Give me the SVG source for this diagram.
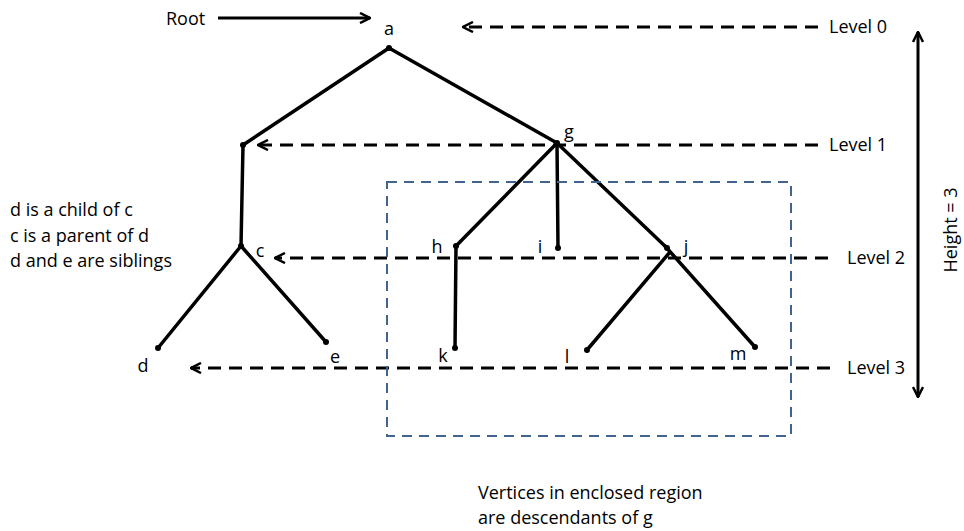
<svg xmlns="http://www.w3.org/2000/svg" width="964" height="531" viewBox="0 0 964 531">
<defs>
<marker id="ah" viewBox="0 0 12 12" refX="11" refY="6" markerWidth="12" markerHeight="12" markerUnits="userSpaceOnUse" orient="auto-start-reverse">
<path d="M1,1 L11,6 L1,11" fill="none" stroke="#000" stroke-width="2.5"/>
</marker>
<style>
.t{font-family:"Open Sans","Liberation Sans",sans-serif;font-size:18px;fill:#000}
.edge{stroke:#000;stroke-width:3.5;fill:none;stroke-linecap:round}
.lvl{stroke:#000;stroke-width:3;fill:none;stroke-dasharray:13 8}
.solid{stroke:#000;stroke-width:3;fill:none}
.dot{fill:#000}
</style>
</defs>
<rect width="964" height="531" fill="#fff"/>
<g id="connectors">
<line class="edge" x1="389" y1="48" x2="243" y2="145"/>
<line class="edge" x1="389" y1="48" x2="557" y2="143"/>
<line class="edge" x1="243" y1="145" x2="241" y2="246"/>
<line class="edge" x1="241" y1="246" x2="158" y2="348"/>
<line class="edge" x1="241" y1="246" x2="326" y2="342"/>
<line class="edge" x1="557" y1="143" x2="456" y2="246"/>
<line class="edge" x1="557" y1="143" x2="558" y2="248"/>
<line class="edge" x1="557" y1="143" x2="667" y2="248"/>
<line class="edge" x1="456" y1="246" x2="455" y2="348"/>
<line class="edge" x1="670" y1="252" x2="587" y2="350"/>
<line class="edge" x1="665" y1="246" x2="755" y2="347"/>
<line class="solid" x1="218" y1="18" x2="370" y2="18" marker-end="url(#ah)"/>
<line class="lvl" x1="818" y1="27" x2="463" y2="27" marker-end="url(#ah)"/>
<line class="lvl" x1="818" y1="145" x2="258" y2="145" marker-end="url(#ah)"/>
<line class="lvl" x1="828" y1="258" x2="275" y2="258" marker-end="url(#ah)"/>
<line class="lvl" x1="830" y1="368" x2="191" y2="368" marker-end="url(#ah)"/>
<line class="solid" x1="918" y1="32" x2="918" y2="397" marker-start="url(#ah)" marker-end="url(#ah)"/>
</g>
<rect x="387" y="182" width="404" height="254" fill="none" stroke="#41648e" stroke-width="2" stroke-dasharray="10 7"/>
<g id="root-label"><text class="t" x="166" y="25">Root</text></g>
<g id="node-a"><circle class="dot" cx="389" cy="48" r="3"/><text class="t" x="389" y="35" text-anchor="middle">a</text></g>
<g id="node-b"><circle class="dot" cx="243" cy="145" r="3"/></g>
<g id="node-g"><circle class="dot" cx="557" cy="143" r="3"/><text class="t" x="569" y="138" text-anchor="middle">g</text></g>
<g id="node-c"><circle class="dot" cx="241" cy="246" r="3"/><text class="t" x="260" y="257" text-anchor="middle">c</text></g>
<g id="node-d"><circle class="dot" cx="158" cy="348" r="3"/><text class="t" x="143" y="372" text-anchor="middle">d</text></g>
<g id="node-e"><circle class="dot" cx="326" cy="342" r="3"/><text class="t" x="335" y="363" text-anchor="middle">e</text></g>
<g id="node-h"><circle class="dot" cx="456" cy="246" r="3"/><text class="t" x="437" y="253" text-anchor="middle">h</text></g>
<g id="node-i"><circle class="dot" cx="558" cy="248" r="3"/><text class="t" x="540" y="253" text-anchor="middle">i</text></g>
<g id="node-j"><circle class="dot" cx="667" cy="248" r="3"/><text class="t" x="686" y="253" text-anchor="middle">j</text></g>
<g id="node-k"><circle class="dot" cx="455" cy="348" r="3"/><text class="t" x="443" y="362" text-anchor="middle">k</text></g>
<g id="node-l"><circle class="dot" cx="587" cy="350" r="3"/><text class="t" x="567" y="363" text-anchor="middle">l</text></g>
<g id="node-m"><circle class="dot" cx="755" cy="347" r="3"/><text class="t" x="738" y="360" text-anchor="middle">m</text></g>
<g id="levels">
<text class="t" x="829" y="33">Level 0</text>
<text class="t" x="829" y="151">Level 1</text>
<text class="t" x="847" y="264">Level 2</text>
<text class="t" x="847" y="374">Level 3</text>
</g>
<g id="height"><text class="t" x="0" y="0" text-anchor="middle" transform="translate(957,230) rotate(-90)">Height = 3</text></g>
<g id="notes">
<text class="t" x="10" y="216">d is a child of c</text>
<text class="t" x="10" y="242">c is a parent of d</text>
<text class="t" x="10" y="267">d and e are siblings</text>
<text class="t" x="478" y="499">Vertices in enclosed region</text>
<text class="t" x="478" y="524">are descendants of g</text>
</g>
</svg>
